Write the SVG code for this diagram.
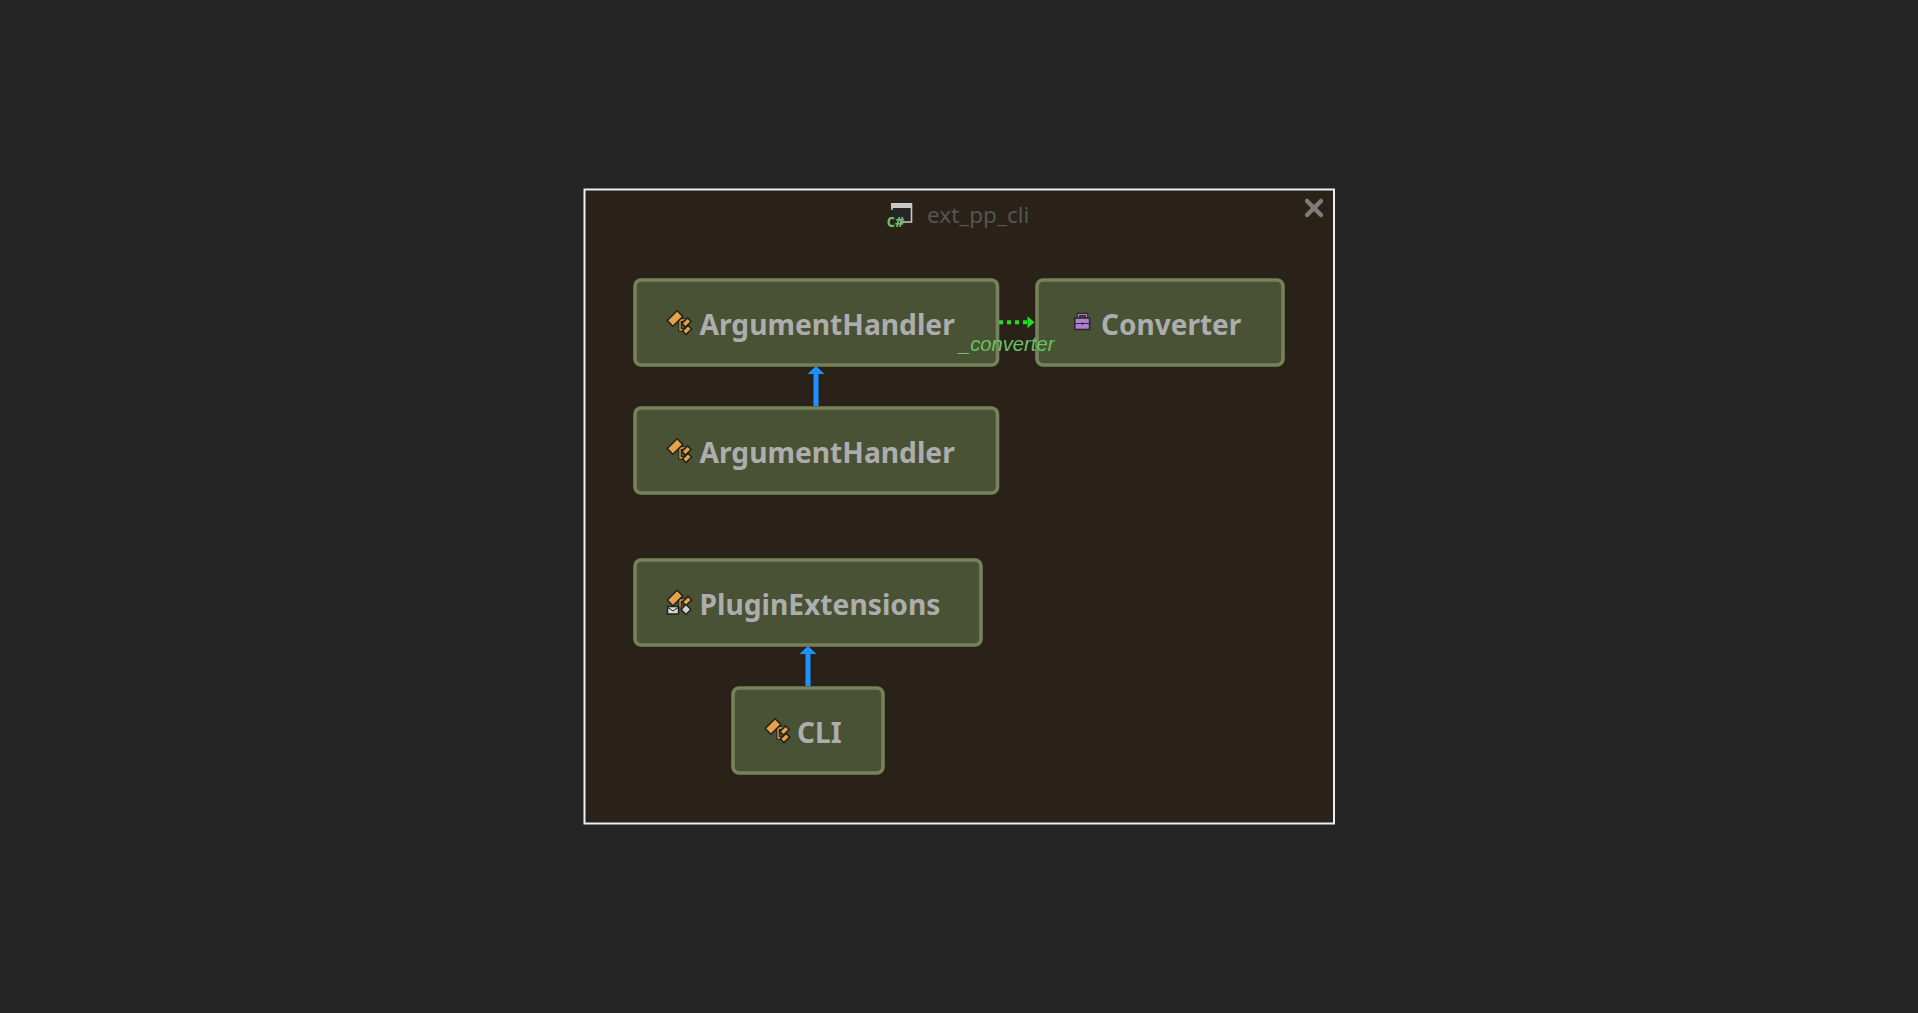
<svg xmlns="http://www.w3.org/2000/svg" width="1918" height="1013" viewBox="0 0 1918 1013">
<style>
.n{fill:#4a5235;stroke:#76825a;stroke-width:3.6}
.t{font-family:"Noto Sans","Open Sans",sans-serif;font-weight:700;font-size:28px;fill:#adadad}
.w{font-size:28.2px}
.o{fill:#e6a24a;stroke:#22201c;stroke-width:1.5}
.k{fill:none;stroke:#22201c;stroke-width:3.4}
.l{fill:none;stroke:#e6a24a;stroke-width:1.3}
</style>
<defs>
<g id="cls">
<path class="k" d="M5 -3V7H10M5 -3H10"/>
<path class="l" d="M5 -3V7H10M5 -3H10"/>
<rect class="o" x="-7" y="-8.500" width="14" height="8" transform="rotate(-45 0 -4.500)"/>
<rect class="o" x="7.500" y="-3" width="8" height="5" transform="rotate(-45 11.500 -0.500)"/>
<rect class="o" x="8" y="4.500" width="8" height="5" transform="rotate(-45 12 7)"/>
</g>
</defs>
<rect width="1918" height="1013" fill="#252525"/>
<rect x="584.500" y="189.500" width="749.500" height="634" fill="#2a2118" stroke="#eeeeee" stroke-width="2"/>
<g id="title">
<rect x="892" y="204" width="20" height="18" fill="#252525"/>
<path d="M892 210V204H911.500V222H900" fill="none" stroke="#c8c8c8" stroke-width="1.600"/>
<rect x="891" y="203" width="21" height="5" fill="#c8c8c8"/>
<text x="886.500" y="226.500" style="font-family:'DejaVu Sans Mono',monospace;font-weight:700;font-size:14.500px" fill="#6cc070">C#</text>
<text x="927" y="223" style="font-family:'Noto Sans','Open Sans',sans-serif;font-size:22.500px" fill="#555">ext_pp_cli</text>
</g>
<g id="close"><path d="M1307 201L1321 215M1321 201L1307 215" stroke="#7c7c7c" stroke-width="4.500" stroke-linecap="round"/></g>
<g id="n1"><rect class="n" x="635" y="280" width="362.500" height="85" rx="6"/><use href="#cls" x="675" y="323"/><text class="t w" x="699.500" y="335">ArgumentHandler</text></g>
<g id="n2"><rect class="n" x="1037" y="280" width="246" height="85" rx="6"/>
<path d="M1078.500 318V314.500H1086.500V318" fill="none" stroke="#2a2a2a" stroke-width="3.400"/>
<path d="M1078.500 318V314.500H1086.500V318" fill="none" stroke="#b07fd0" stroke-width="1.200"/>
<rect x="1074.800" y="318" width="14.800" height="11.500" fill="#b07fd0" stroke="#2a2a2a" stroke-width="1.600"/>
<path d="M1075 323.500H1090M1082.500 322.500V325" stroke="#2a2a2a" stroke-width="1.200"/>
<text class="t" x="1101" y="335">Converter</text></g>
<g id="n3"><rect class="n" x="635" y="408" width="362.500" height="85" rx="6"/><use href="#cls" x="675" y="451"/><text class="t w" x="699.500" y="463">ArgumentHandler</text></g>
<g id="n4"><rect class="n" x="635" y="560" width="346" height="85" rx="6"/>
<path class="k" d="M680 600V607M680 600H685"/><path class="l" d="M680 600V607M680 600H685"/>
<rect class="o" x="668" y="594" width="14" height="8" transform="rotate(-45 675 598)"/>
<rect class="o" x="683" y="598.500" width="8" height="5" transform="rotate(-45 687 601)"/>
<rect x="667.500" y="606.500" width="11" height="7.500" fill="#d8d8d8" stroke="#22201c" stroke-width="1.500"/>
<path d="M668 607.500L673 611L678 607.500" fill="none" stroke="#22201c" stroke-width="1"/>
<rect x="682.500" y="606" width="7" height="7" fill="#d0d0d0" stroke="#22201c" stroke-width="1.500" transform="rotate(45 686 609.500)"/>
<text class="t w" x="699.500" y="615">PluginExtensions</text></g>
<g id="n5"><rect class="n" x="733" y="688" width="150" height="85" rx="6"/><use href="#cls" x="773" y="731"/><text class="t" x="797" y="743">CLI</text></g>
<g id="connectors">
<path d="M816 406V373" stroke="#1e90ff" stroke-width="5" fill="none"/>
<path d="M807.500 374H824.500L816 366Z" fill="#1e90ff"/>
<path d="M808 686V653" stroke="#1e90ff" stroke-width="5" fill="none"/>
<path d="M799.500 654H816.500L808 646Z" fill="#1e90ff"/>
<path d="M999 322.300H1028" stroke="#22dd22" stroke-width="4" stroke-dasharray="4 4" fill="none"/>
<path d="M1027.500 316.300L1034.500 322.300L1027.500 328.300Z" fill="#22dd22"/>
</g>
<text x="959" y="351" style="font-family:'Liberation Sans',sans-serif;font-style:italic;font-size:20.200px" fill="#62c462">_converter</text>
</svg>
